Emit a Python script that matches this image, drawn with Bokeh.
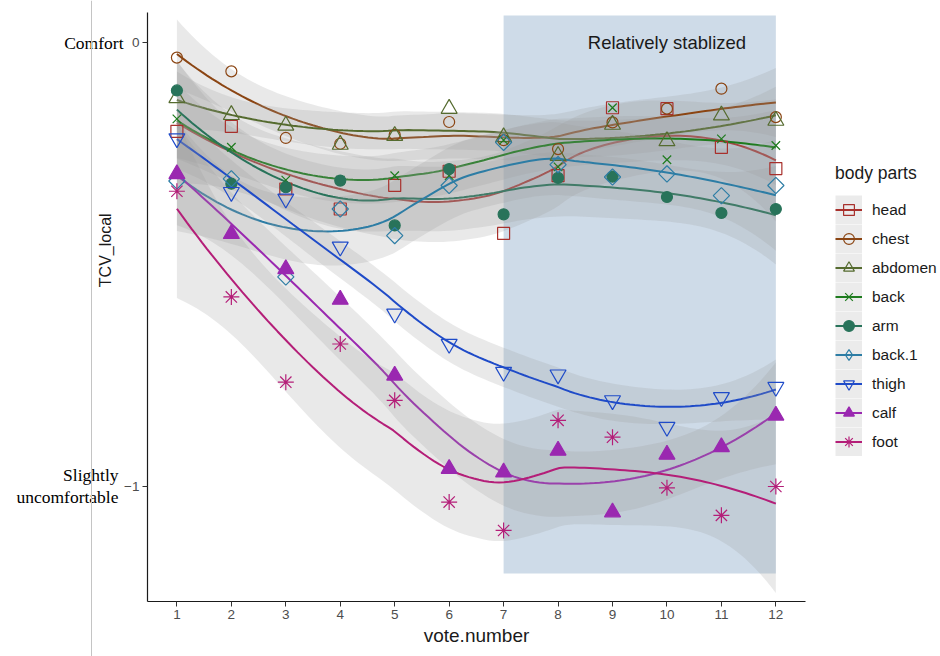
import numpy as np
from bokeh.plotting import figure
from bokeh.models import Range1d, FixedTicker, Legend, LegendItem, Label, Span
from bokeh.embed import file_html
from bokeh.resources import INLINE
from bokeh.core.properties import value

# ---------------- data ----------------
vote_number = [1, 2, 3, 4, 5, 6, 7, 8, 9, 10, 11, 12]
head    = [-0.200, -0.189, -0.330, -0.375, -0.322, -0.290, -0.430, -0.300, -0.147, -0.149, -0.236, -0.284]
chest   = [-0.034, -0.065, -0.215, -0.228, -0.208, -0.179, -0.220, -0.240, -0.180, -0.149, -0.104, -0.168]
abdomen = [-0.125, -0.163, -0.187, -0.230, -0.210, -0.149, -0.213, -0.255, -0.185, -0.222, -0.164, -0.176]
back    = [-0.172, -0.236, -0.310, -0.310, -0.300, -0.300, -0.220, -0.280, -0.147, -0.264, -0.217, -0.232]
arm     = [-0.108, -0.318, -0.326, -0.311, -0.412, -0.285, -0.387, -0.305, -0.302, -0.348, -0.384, -0.375]
back_1  = [-0.312, -0.307, -0.528, -0.375, -0.435, -0.322, -0.225, -0.275, -0.303, -0.296, -0.345, -0.322]
thigh   = [-0.216, -0.337, -0.352, -0.460, -0.611, -0.679, -0.742, -0.748, -0.806, -0.866, -0.799, -0.776]
calf    = [-0.296, -0.431, -0.510, -0.579, -0.750, -0.960, -0.968, -0.919, -1.058, -0.928, -0.911, -0.840]
foot    = [-0.335, -0.573, -0.765, -0.679, -0.806, -1.035, -1.099, -0.851, -0.889, -1.003, -1.065, -1.000]

series_names = ["head", "chest", "abdomen", "back", "arm", "back.1", "thigh", "calf", "foot"]
series_values = [head, chest, abdomen, back, arm, back_1, thigh, calf, foot]

y_ticks = [0, -1]
y_tick_words = ["Comfort", "Slightly", "uncomfortable"]

stable_x = [7, 12]
stable_y = [-1.196, 0.061]
note_text = ["Relatively stablized"]
note_x = [10]
note_y = [0.0]

# ---------------- style ----------------
colors  = ["#A8302C", "#8B4513", "#556B2F", "#1E7B1E", "#28735A", "#2D7DA5", "#1F4BC8", "#9A28B0", "#B41E78"]
markers = ["square", "circle", "triangle", "x", "circle", "square", "inverted_triangle", "triangle", "asterisk"]
filled  = [False, False, False, False, True, False, False, True, False]
sizes   = [12, 11, 16, 12, 11, 11.5, 16, 16, 16]
angles  = [0, 0, 0, 0, 0, np.pi / 4, 0, 0, 0]


def loess_fit(xs, ys, grid, span=0.75):
    xs = np.asarray(xs, float)
    ys = np.asarray(ys, float)
    n = len(xs)
    q = int(np.floor(n * span))

    def rows(pts):
        L = np.zeros((len(pts), n))
        for i, x0 in enumerate(pts):
            d = np.abs(xs - x0)
            ds = np.sort(d)
            h = 0.5 * (ds[q - 1] + ds[q]) if q < n else ds[-1]
            w = np.clip(1 - (d / h) ** 3, 0, None) ** 3
            X = np.column_stack([np.ones(n), xs - x0, (xs - x0) ** 2])
            XtW = X.T * w
            L[i] = np.linalg.solve(XtW @ X, XtW)[0]
        return L

    Ld = rows(xs)
    Lg = rows(grid)
    R = np.eye(n) - Ld
    M = R.T @ R
    d1 = np.trace(M)
    d2 = np.trace(M @ M)
    s = np.sqrt(np.sum((R @ ys) ** 2) / d1)
    df = d1 ** 2 / d2
    z = 1.959964
    t = (z + (z ** 3 + z) / (4 * df) + (5 * z ** 5 + 16 * z ** 3 + 3 * z) / (96 * df ** 2)
         + (3 * z ** 7 + 19 * z ** 5 + 17 * z ** 3 - 15 * z) / (384 * df ** 3))
    fit = Lg @ ys
    se = s * np.sqrt(np.sum(Lg ** 2, axis=1))
    return fit, fit - t * se, fit + t * se


FONT = "Liberation Sans"
SERIF = "Liberation Serif"

W, H = 940, 656
# axis spans (data units) and where they sit on the canvas
X0, X1 = 0.46, 12.55
Y0, Y1 = -1.259, 0.0676
AX_LEFT_PX = 147      # canvas x of the y axis line
AX_BOTTOM_PX = 601    # canvas y of the x axis line
PX_X = 54.45          # pixels per vote
PX_Y = 444.0          # pixels per TCV unit
x_start = X0 - AX_LEFT_PX / PX_X
x_end = X0 + (W - AX_LEFT_PX) / PX_X
y_start = Y0 - (H - AX_BOTTOM_PX) / PX_Y
y_end = Y0 + AX_BOTTOM_PX / PX_Y

p = figure(width=W, height=H, output_backend="svg", toolbar_location=None,
           x_range=Range1d(x_start, x_end), y_range=Range1d(y_start, y_end),
           min_border=0, min_border_left=0, min_border_right=0, min_border_top=0, min_border_bottom=0)
p.grid.visible = False
p.outline_line_color = None
p.background_fill_color = "white"
p.border_fill_color = "white"

# shaded "stable" zone
p.quad(left=[stable_x[0]], right=[stable_x[1]], bottom=[stable_y[0]], top=[stable_y[1]],
       fill_color="#cedbe8", line_color=None)

grid = np.linspace(min(vote_number), max(vote_number), 120)
line_renderers = []
bg_renderers = []
for name, vals, col in zip(series_names, series_values, colors):
    fit, lo, hi = loess_fit(vote_number, vals, grid)
    p.varea(x=grid, y1=lo, y2=hi, fill_color="#999999", fill_alpha=0.22)
    lr = p.line(x=grid, y=fit, line_color=col, line_width=2)
    line_renderers.append(lr)
    bg = p.line(x=grid, y=fit, line_color="#ebebeb", line_width=29, visible=False)
    bg_renderers.append(bg)

scatter_renderers = []
for name, vals, col, mk, fl, sz, ang in zip(series_names, series_values, colors, markers, filled, sizes, angles):
    sr = p.scatter(x=vote_number, y=vals, marker=mk, size=sz, angle=ang,
                   line_color=col, line_width=1.2,
                   fill_color=col if fl else None)
    scatter_renderers.append(sr)

p.text(x=note_x, y=note_y, text=note_text, text_font=value(FONT), text_font_size="18.5px",
       text_color="#1a1a1a", text_align="center", text_baseline="middle")

# axes, pinned at the edges of the data area
p.xaxis.ticker = FixedTicker(ticks=vote_number)
p.xaxis.fixed_location = Y0
p.xaxis.bounds = (X0, X1)
p.yaxis.ticker = FixedTicker(ticks=y_ticks)
p.yaxis.fixed_location = X0
p.yaxis.bounds = (Y0, Y1)
for ax in (p.xaxis[0], p.yaxis[0]):
    ax.axis_line_color = "#1a1a1a"
    ax.axis_line_width = 1.2
    ax.major_tick_line_color = "#333333"
    ax.major_tick_out = 5
    ax.major_tick_in = 0
    ax.minor_tick_line_color = None
    ax.major_label_text_font = FONT
    ax.major_label_text_font_size = "13.5px"
    ax.major_label_text_color = "#4d4d4d"
    ax.major_label_standoff = 3
p.xaxis.axis_label = "vote.number"
p.xaxis.axis_label_text_font = FONT
p.xaxis.axis_label_text_font_size = "19px"
p.xaxis.axis_label_text_font_style = "normal"
p.xaxis.axis_label_text_color = "#1a1a1a"
p.xaxis.axis_label_standoff = 3

# y label and word labels beside the y axis
p.add_layout(Label(x=105, y=-0.468, x_units="screen", y_units="data", text="TCV_local",
                   angle=np.pi / 2, text_align="center", text_baseline="middle",
                   text_font=FONT, text_font_size="16px", text_color="#1a1a1a"))
p.add_layout(Label(x=123, y=y_ticks[0], x_units="screen", y_units="data", text=y_tick_words[0],
                   text_align="right", text_baseline="middle",
                   text_font=SERIF, text_font_size="17.5px", text_color="black"))
p.add_layout(Label(x=118, y=y_ticks[1] + 0.025, x_units="screen", y_units="data", text=y_tick_words[1],
                   text_align="right", text_baseline="middle",
                   text_font=SERIF, text_font_size="17.5px", text_color="black"))
p.add_layout(Label(x=118, y=y_ticks[1] - 0.023, x_units="screen", y_units="data", text=y_tick_words[2],
                   text_align="right", text_baseline="middle",
                   text_font=SERIF, text_font_size="17.5px", text_color="black"))

# thin grey separator line at the far left
p.add_layout(Span(location=91, location_units="screen", dimension="height",
                  line_color="#c4c4c4", line_width=1))

# legend
items = []
for i, name in enumerate(series_names):
    rends = [bg_renderers[i], line_renderers[i]]
    if markers[i] == "square" and angles[i] != 0:
        dm = p.scatter(x=vote_number, y=series_values[i], marker="diamond", size=10,
                       line_color=colors[i], line_width=1.2, fill_color=None, visible=False)
        rends.append(dm)
    else:
        rends.append(scatter_renderers[i])
    items.append(LegendItem(label=name, renderers=rends))

legend = Legend(items=items, title="body parts", location=(835, H - 456),
                glyph_width=27, glyph_height=29, spacing=0, padding=0, margin=0,
                label_standoff=10, label_text_font=FONT, label_text_font_size="15.5px",
                label_text_color="#1a1a1a", title_text_font=FONT, title_text_font_size="17.5px",
                title_text_font_style="normal", title_text_color="#1a1a1a", title_standoff=11,
                border_line_color=None, background_fill_alpha=0)
p.add_layout(legend)

open("out.html", "w").write(file_html(p, INLINE))
